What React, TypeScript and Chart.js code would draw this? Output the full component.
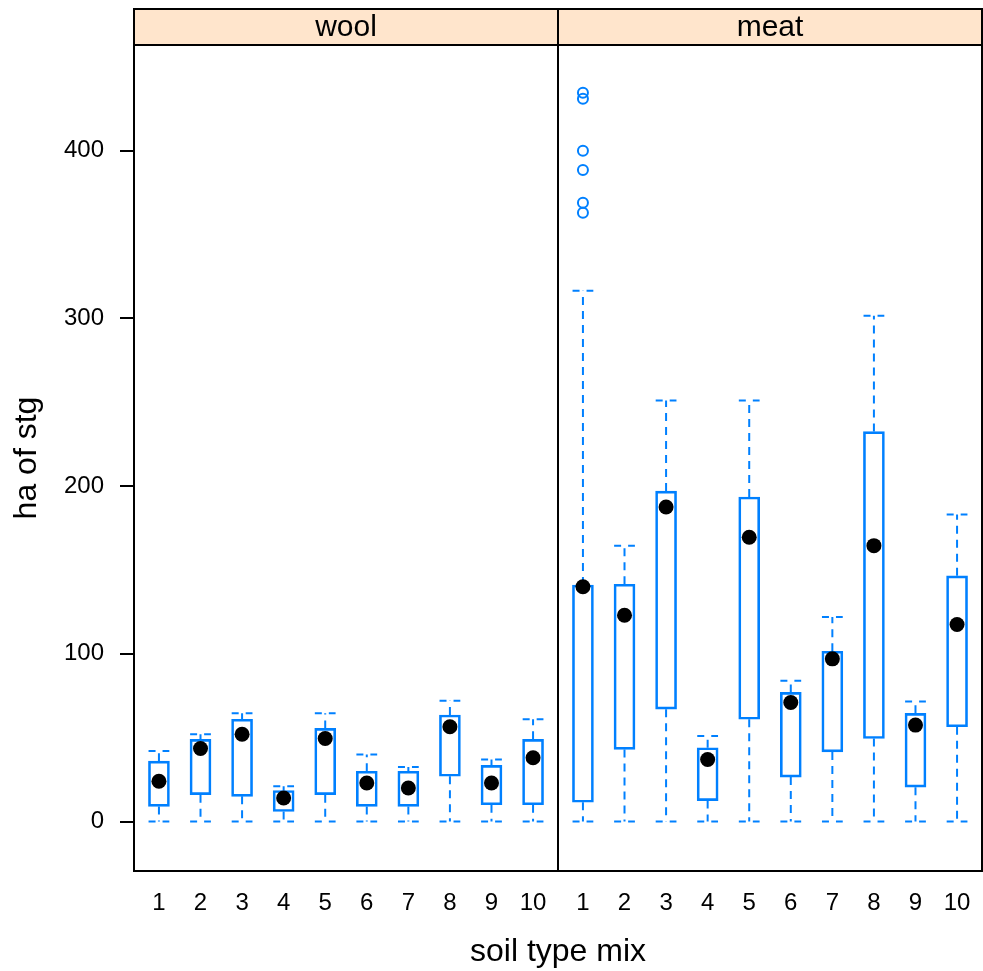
import React, { useEffect, useRef } from "react";
import { Chart, registerables } from "chart.js";

Chart.register(...registerables);

// ---------- data ----------
const CATEGORIES = ["1", "2", "3", "4", "5", "6", "7", "8", "9", "10"];
const PANELS = ["wool", "meat"];
const Y_TICKS = [0, 100, 200, 300, 400];

const WOOL_MIN = [0, 0, 0, 0, 0, 0, 0, 0, 0, 0];
const WOOL_Q1 = [9, 16, 15, 6, 16, 9, 9, 27, 10, 10];
const WOOL_MED = [24, 43.5, 52, 14, 49.5, 23, 20, 56.5, 23, 38];
const WOOL_Q3 = [36, 49, 61, 18.5, 55.5, 30, 30, 63.5, 33.5, 49];
const WOOL_MAX = [42, 52, 64.5, 21, 64.5, 40, 32.5, 72, 37, 61];

const MEAT_MIN = [0, 0, 0, 0, 0, 0, 0, 0, 0, 0];
const MEAT_Q1 = [11.5, 43, 67, 12.5, 61, 26.5, 41.5, 49.5, 20.5, 56.5];
const MEAT_MED = [140, 123, 187.5, 37, 169.5, 71, 97, 164.5, 57.5, 117.5];
const MEAT_Q3 = [141, 141.5, 197, 44, 193.5, 77, 101.5, 232.5, 64.5, 146.5];
const MEAT_MAX = [316.5, 164.5, 251, 51, 251, 84, 122, 301.5, 71.5, 183];

// outliers of meat, soil type mix 1
const MEAT_OUTLIER_CAT = 1;
const MEAT_OUTLIERS = [434.5, 431, 400, 388.5, 369, 363];

// ---------- layout / style constants ----------
const FONT = "'Liberation Sans', Arial, Helvetica, sans-serif";
const BLUE = "#0080FF";
const STRIP_BG = "#FFE5CC";
const X_MIN = 0.4;
const X_MAX = 20.8;
const PANEL_SHIFT = 10.2;
const DIVIDER = 10.6;
const CAP_HALF = 0.25;
const STRIP_TOP = 9;

type PanelStats = {
  name: string;
  shift: number;
  min: number[];
  q1: number[];
  med: number[];
  q3: number[];
  max: number[];
};

const PANEL_STATS: PanelStats[] = [
  { name: PANELS[0], shift: 0, min: WOOL_MIN, q1: WOOL_Q1, med: WOOL_MED, q3: WOOL_Q3, max: WOOL_MAX },
  { name: PANELS[1], shift: PANEL_SHIFT, min: MEAT_MIN, q1: MEAT_Q1, med: MEAT_MED, q3: MEAT_Q3, max: MEAT_MAX },
];

const X_POSITIONS = PANEL_STATS.flatMap((p) => CATEGORIES.map((_, i) => i + 1 + p.shift));
const X_LABELS = PANEL_STATS.flatMap(() => CATEGORIES);

function buildDatasets() {
  const boxes: any[] = [];
  const whiskers: any[] = [];
  const caps: any[] = [];
  const medians: any[] = [];
  PANEL_STATS.forEach((p) => {
    CATEGORIES.forEach((_, i) => {
      const x = i + 1 + p.shift;
      boxes.push({ x, y: [p.q1[i], p.q3[i]] });
      whiskers.push(
        { x, y: p.q3[i] },
        { x, y: p.max[i] },
        { x, y: null },
        { x, y: p.q1[i] },
        { x, y: p.min[i] },
        { x, y: null }
      );
      caps.push(
        { x: x - CAP_HALF, y: p.max[i] },
        { x: x + CAP_HALF, y: p.max[i] },
        { x, y: null },
        { x: x - CAP_HALF, y: p.min[i] },
        { x: x + CAP_HALF, y: p.min[i] },
        { x, y: null }
      );
      medians.push({ x, y: p.med[i] });
    });
  });
  const outliers = MEAT_OUTLIERS.map((v) => ({ x: MEAT_OUTLIER_CAT + PANEL_SHIFT, y: v }));

  return [
    {
      type: "bar",
      data: boxes,
      backgroundColor: "rgba(255,255,255,0)",
      borderColor: BLUE,
      borderWidth: 2,
      borderSkipped: false,
      barThickness: 21,
      grouped: false,
      order: 3,
    },
    {
      type: "line",
      data: whiskers,
      borderColor: BLUE,
      borderWidth: 2,
      borderDash: [8, 6],
      pointRadius: 0,
      spanGaps: false,
      fill: false,
      order: 4,
    },
    {
      type: "line",
      data: caps,
      borderColor: BLUE,
      borderWidth: 2,
      borderDash: [7, 7],
      pointRadius: 0,
      spanGaps: false,
      fill: false,
      order: 4,
    },
    {
      type: "scatter",
      data: medians,
      pointStyle: "circle",
      pointRadius: 7.5,
      backgroundColor: "#000",
      borderColor: "#000",
      borderWidth: 0,
      order: 1,
    },
    {
      type: "scatter",
      data: outliers,
      pointStyle: "circle",
      pointRadius: 5,
      backgroundColor: "rgba(255,255,255,0)",
      borderColor: BLUE,
      borderWidth: 2,
      order: 1,
    },
  ];
}

const panelPlugin = {
  id: "latticePanels",
  afterDraw(chart: any) {
    const { ctx, chartArea, scales } = chart;
    const { left, right, top, bottom } = chartArea;
    const div = Math.round(scales.x.getPixelForValue(DIVIDER));
    ctx.save();
    ctx.fillStyle = STRIP_BG;
    ctx.fillRect(left, STRIP_TOP, right - left, top - STRIP_TOP);
    ctx.strokeStyle = "#000";
    ctx.lineWidth = 2;
    ctx.strokeRect(left, STRIP_TOP, right - left, bottom - STRIP_TOP);
    ctx.beginPath();
    ctx.moveTo(left, top);
    ctx.lineTo(right, top);
    ctx.moveTo(div, STRIP_TOP);
    ctx.lineTo(div, bottom);
    ctx.stroke();
    ctx.fillStyle = "#000";
    ctx.font = `30px ${FONT}`;
    ctx.textAlign = "center";
    ctx.textBaseline = "middle";
    const centers = [(left + div) / 2, (div + right) / 2];
    PANELS.forEach((name, k) => {
      ctx.fillText(name, centers[k], (STRIP_TOP + top) / 2 + 1);
    });
    ctx.restore();
  },
};

export default function App() {
  const ref = useRef<HTMLCanvasElement>(null);
  useEffect(() => {
    if (!ref.current) return;
    const chart = new Chart(ref.current, {
      type: "bar",
      data: { datasets: buildDatasets() as any },
      options: {
        responsive: false,
        animation: false,
        events: [],
        layout: { autoPadding: false, padding: { top: 45, right: 1, bottom: 0, left: 0 } },
        plugins: {
          legend: { display: false },
          tooltip: { enabled: false },
        },
        scales: {
          x: {
            type: "linear",
            offset: false,
            min: X_MIN,
            max: X_MAX,
            afterBuildTicks: (s: any) => {
              s.ticks = X_POSITIONS.map((v) => ({ value: v }));
            },
            afterFit: (s: any) => {
              s.height = 100;
              s.paddingLeft = 0;
              s.paddingRight = 0;
            },
            grid: { display: false, drawTicks: false, offset: false },
            border: { display: false },
            ticks: {
              autoSkip: false,
              maxRotation: 0,
              minRotation: 0,
              color: "#000",
              font: { family: FONT, size: 24 },
              padding: 18,
              callback: (_v: any, i: number) => X_LABELS[i],
            },
            title: {
              display: true,
              text: "soil type mix",
              color: "#000",
              font: { family: FONT, size: 32 },
              padding: { top: 0, bottom: 0 },
            },
          },
          y: {
            type: "linear",
            min: -29.5,
            max: 463,
            afterBuildTicks: (s: any) => {
              s.ticks = Y_TICKS.map((v) => ({ value: v }));
            },
            afterFit: (s: any) => {
              s.width = 134;
              s.paddingTop = 0;
              s.paddingBottom = 0;
            },
            grid: {
              drawOnChartArea: false,
              drawTicks: true,
              tickLength: 14,
              color: "#000",
              lineWidth: 2,
            },
            border: { display: false },
            ticks: {
              color: "#000",
              font: { family: FONT, size: 24 },
              padding: 16,
            },
            title: {
              display: true,
              text: "ha of stg",
              color: "#000",
              font: { family: FONT, size: 32 },
              padding: { top: 8, bottom: 0 },
            },
          },
        },
      } as any,
      plugins: [panelPlugin],
    });
    return () => chart.destroy();
  }, []);
  return (
    <div style={{ position: "absolute", left: 0, top: 0, width: 983, height: 971 }}>
      <canvas ref={ref} width={983} height={971} style={{ display: "block" }} />
    </div>
  );
}
